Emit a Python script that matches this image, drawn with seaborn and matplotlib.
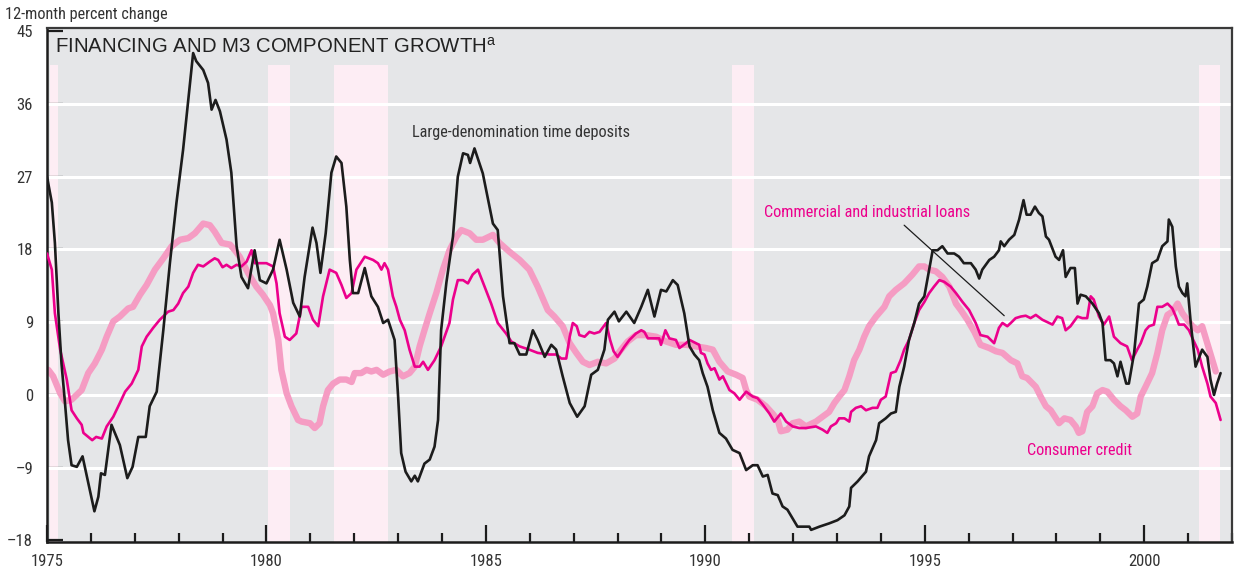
import os
import matplotlib
matplotlib.use("Agg")
import matplotlib.pyplot as plt
import matplotlib.ticker as mticker
from matplotlib import font_manager as fm
import seaborn as sns
import pandas as pd

# ---------------- data ----------------
large_x = [1975.00, 1975.11, 1975.18, 1975.26, 1975.33, 1975.41, 1975.48, 1975.56, 1975.68, 1975.81,
           1975.94, 1976.08, 1976.17, 1976.23, 1976.32, 1976.47, 1976.66, 1976.83, 1976.95, 1977.08,
           1977.25, 1977.34, 1977.50, 1977.65, 1977.80, 1977.95, 1978.10, 1978.33, 1978.40, 1978.56,
           1978.67, 1978.75, 1978.84, 1978.94, 1979.09, 1979.20, 1979.32, 1979.43, 1979.58, 1979.73,
           1979.85, 1980.00, 1980.15, 1980.30, 1980.46, 1980.61, 1980.76, 1980.87, 1981.05, 1981.14,
           1981.23, 1981.35, 1981.48, 1981.59, 1981.71, 1981.82, 1981.90, 1981.97, 1982.09, 1982.24,
           1982.39, 1982.54, 1982.66, 1982.77, 1982.92, 1983.00, 1983.07, 1983.17, 1983.30, 1983.38,
           1983.45, 1983.60, 1983.72, 1983.83, 1983.91, 1983.98, 1984.10, 1984.25, 1984.36, 1984.48,
           1984.59, 1984.64, 1984.74, 1984.93, 1985.16, 1985.27, 1985.39, 1985.54, 1985.65, 1985.77,
           1985.92, 1986.07, 1986.18, 1986.34, 1986.49, 1986.60, 1986.75, 1986.91, 1987.08, 1987.25,
           1987.40, 1987.55, 1987.70, 1987.78, 1987.93, 1988.03, 1988.20, 1988.38, 1988.54, 1988.69,
           1988.84, 1988.99, 1989.11, 1989.26, 1989.37, 1989.52, 1989.64, 1989.75, 1989.86, 1989.94,
           1990.05, 1990.17, 1990.32, 1990.47, 1990.62, 1990.78, 1990.93, 1991.08, 1991.19, 1991.31,
           1991.42, 1991.53, 1991.65, 1991.76, 1991.87, 1991.99, 1992.10, 1992.37, 1992.41, 1992.60,
           1992.82, 1993.01, 1993.17, 1993.28, 1993.32, 1993.47, 1993.66, 1993.73, 1993.89, 1993.96,
           1994.11, 1994.23, 1994.34, 1994.42, 1994.53, 1994.64, 1994.76, 1994.87, 1994.99, 1995.10,
           1995.18, 1995.29, 1995.40, 1995.52, 1995.67, 1995.78, 1995.89, 1996.05, 1996.16, 1996.24,
           1996.31, 1996.47, 1996.58, 1996.69, 1996.73, 1996.81, 1996.92, 1997.04, 1997.15, 1997.25,
           1997.32, 1997.41, 1997.51, 1997.60, 1997.68, 1997.76, 1997.83, 1997.98, 1998.06, 1998.15,
           1998.21, 1998.32, 1998.42, 1998.48, 1998.55, 1998.67, 1998.82, 1998.97, 1999.05, 1999.12,
           1999.23, 1999.31, 1999.39, 1999.46, 1999.59, 1999.65, 1999.77, 1999.88, 1999.99, 2000.07,
           2000.18, 2000.30, 2000.41, 2000.53, 2000.56, 2000.64, 2000.72, 2000.79, 2000.87, 2000.94,
           2000.98, 2001.06, 2001.17, 2001.32, 2001.44, 2001.51, 2001.59, 2001.66, 2001.74]
large_y = [27.0, 23.8, 18.8, 10.1, 3.9, -1.0, -5.6, -8.7, -8.9, -7.6,
           -10.9, -14.4, -12.6, -9.7, -9.9, -3.7, -6.2, -10.3, -8.9, -5.2,
           -5.2, -1.4, 0.4, 8.0, 16.3, 23.8, 30.3, 42.3, 41.3, 40.2,
           38.6, 35.3, 36.5, 35.1, 31.6, 27.5, 18.4, 14.6, 13.2, 17.9,
           14.2, 13.8, 15.5, 19.2, 15.5, 11.4, 9.7, 14.6, 20.7, 18.8,
           15.1, 20.0, 27.5, 29.5, 28.7, 23.3, 16.7, 12.6, 12.6, 15.7,
           12.2, 10.9, 8.9, 9.3, 6.8, -0.2, -7.2, -9.5, -10.7, -10.0,
           -10.7, -8.5, -8.0, -6.4, -3.1, 8.0, 13.9, 19.6, 27.0, 29.9,
           29.7, 28.7, 30.5, 27.4, 21.2, 20.4, 12.2, 6.4, 6.4, 5.0,
           5.0, 8.0, 6.8, 4.7, 6.2, 5.6, 2.3, -1.0, -2.7, -1.4,
           2.5, 3.1, 5.6, 9.3, 10.3, 9.1, 10.3, 8.9, 10.9, 13.0,
           9.7, 13.0, 12.8, 14.2, 13.6, 10.1, 6.0, 5.0, 4.3, 2.7,
           1.0, -1.9, -4.7, -5.4, -6.8, -7.2, -9.3, -8.7, -8.7, -10.1,
           -9.9, -12.2, -12.4, -13.8, -14.2, -15.3, -16.3, -16.3, -16.7, -16.3,
           -15.9, -15.5, -14.9, -13.8, -11.5, -10.7, -9.5, -7.6, -5.6, -3.5,
           -2.9, -2.3, -2.1, 1.0, 3.5, 6.8, 8.9, 11.3, 12.2, 15.5,
           17.9, 17.9, 18.4, 17.5, 17.5, 17.1, 16.3, 16.3, 15.5, 14.4,
           15.5, 16.7, 17.1, 17.9, 19.0, 18.4, 19.2, 19.8, 21.7, 24.1,
           22.3, 22.3, 23.3, 22.5, 22.1, 19.6, 19.2, 17.1, 16.7, 17.9,
           14.6, 15.7, 15.7, 11.3, 12.4, 12.2, 11.3, 10.1, 8.9, 4.3,
           4.3, 3.9, 2.3, 4.1, 1.4, 1.4, 5.2, 11.3, 11.8, 13.4,
           16.3, 16.7, 18.4, 19.0, 21.7, 20.8, 15.9, 13.4, 12.6, 12.2,
           13.8, 8.9, 3.5, 5.6, 4.7, 1.9, 0.0, 1.4, 2.7]

ci_x = [1975.00, 1975.11, 1975.18, 1975.30, 1975.45, 1975.56, 1975.68, 1975.79, 1975.83, 1975.94,
        1976.03, 1976.12, 1976.25, 1976.36, 1976.51, 1976.66, 1976.78, 1976.93, 1977.08, 1977.16,
        1977.27, 1977.42, 1977.57, 1977.76, 1977.88, 1977.99, 1978.10, 1978.22, 1978.33, 1978.44,
        1978.56, 1978.71, 1978.82, 1978.90, 1979.00, 1979.09, 1979.20, 1979.32, 1979.43, 1979.55,
        1979.66, 1979.73, 1980.00, 1980.15, 1980.23, 1980.30, 1980.42, 1980.53, 1980.68, 1980.80,
        1980.95, 1981.06, 1981.18, 1981.29, 1981.44, 1981.59, 1981.71, 1981.82, 1981.94, 1982.05,
        1982.24, 1982.43, 1982.54, 1982.62, 1982.69, 1982.77, 1982.88, 1982.96, 1983.04, 1983.15,
        1983.26, 1983.38, 1983.49, 1983.57, 1983.68, 1983.83, 1983.98, 1984.17, 1984.25, 1984.36,
        1984.48, 1984.59, 1984.70, 1984.82, 1984.97, 1985.12, 1985.27, 1985.46, 1985.58, 1985.77,
        1985.99, 1986.18, 1986.45, 1986.60, 1986.72, 1986.83, 1986.91, 1986.98, 1987.07, 1987.13,
        1987.25, 1987.36, 1987.47, 1987.59, 1987.74, 1987.83, 1987.91, 1988.00, 1988.16, 1988.27,
        1988.42, 1988.54, 1988.61, 1988.69, 1988.84, 1988.95, 1988.99, 1989.09, 1989.18, 1989.33,
        1989.41, 1989.56, 1989.64, 1989.79, 1989.86, 1989.90, 1989.98, 1990.05, 1990.13, 1990.21,
        1990.32, 1990.40, 1990.55, 1990.66, 1990.78, 1990.93, 1991.08, 1991.19, 1991.31, 1991.46,
        1991.57, 1991.72, 1991.84, 1991.99, 1992.14, 1992.29, 1992.52, 1992.67, 1992.78, 1992.86,
        1992.98, 1993.05, 1993.17, 1993.28, 1993.32, 1993.43, 1993.55, 1993.66, 1993.81, 1993.92,
        1994.00, 1994.11, 1994.23, 1994.34, 1994.45, 1994.53, 1994.64, 1994.76, 1994.87, 1994.99,
        1995.10, 1995.21, 1995.33, 1995.44, 1995.59, 1995.71, 1995.86, 1996.01, 1996.16, 1996.27,
        1996.43, 1996.58, 1996.69, 1996.77, 1996.88, 1996.96, 1997.07, 1997.19, 1997.30, 1997.41,
        1997.53, 1997.68, 1997.83, 1997.91, 1998.02, 1998.13, 1998.21, 1998.32, 1998.48, 1998.59,
        1998.70, 1998.78, 1998.85, 1998.97, 1999.08, 1999.20, 1999.31, 1999.46, 1999.61, 1999.72,
        1999.84, 1999.92, 2000.03, 2000.11, 2000.22, 2000.30, 2000.41, 2000.53, 2000.64, 2000.72,
        2000.79, 2000.91, 2001.02, 2001.10, 2001.22, 2001.32, 2001.44, 2001.51, 2001.63, 2001.74]
ci_y = [17.5, 15.5, 10.1, 5.6, 1.9, -1.9, -2.9, -3.7, -4.7, -5.2,
        -5.6, -5.2, -5.4, -3.9, -2.7, -1.0, 0.4, 1.4, 3.1, 6.0,
        7.2, 8.3, 9.3, 10.3, 10.5, 11.3, 12.6, 13.4, 15.1, 16.1,
        15.9, 16.5, 16.9, 16.7, 15.8, 16.1, 15.7, 16.1, 15.9, 16.5,
        17.9, 16.3, 16.3, 15.9, 13.8, 10.1, 7.2, 6.8, 7.6, 10.9,
        10.9, 9.3, 8.5, 12.2, 15.5, 15.1, 13.6, 12.0, 12.6, 15.5,
        17.1, 16.7, 16.3, 15.5, 16.3, 15.5, 12.2, 10.9, 9.3, 8.0,
        5.6, 3.5, 3.5, 4.1, 3.1, 4.3, 6.0, 8.9, 11.8, 14.2,
        14.2, 13.8, 14.9, 15.5, 13.4, 11.3, 8.9, 7.6, 6.6, 6.0,
        5.6, 5.2, 5.0, 5.0, 4.5, 4.5, 7.2, 8.9, 8.5, 7.4,
        7.2, 7.8, 7.6, 7.8, 8.9, 6.8, 5.4, 4.7, 6.0, 6.8,
        7.6, 8.0, 7.8, 7.0, 7.0, 7.0, 6.2, 8.0, 7.0, 6.8,
        5.8, 6.4, 6.8, 6.4, 6.2, 5.2, 5.0, 3.9, 3.1, 3.3,
        1.9, 2.3, 0.6, 0.2, -0.6, 0.4, -0.2, -0.4, -1.2, -2.3,
        -3.3, -2.3, -3.3, -3.9, -4.1, -4.1, -3.9, -4.3, -4.7, -3.9,
        -3.5, -2.9, -2.9, -3.3, -2.1, -1.6, -1.4, -1.9, -1.6, -1.6,
        -0.6, -0.2, 2.7, 2.9, 4.3, 5.6, 6.8, 8.9, 10.5, 11.5,
        12.6, 13.4, 14.2, 14.0, 13.4, 12.6, 11.5, 10.5, 8.9, 7.4,
        7.2, 6.4, 8.3, 8.9, 8.5, 8.9, 9.5, 9.7, 9.8, 9.5,
        9.9, 9.3, 8.9, 8.7, 9.7, 9.5, 8.0, 8.5, 9.7, 9.5,
        9.5, 12.2, 11.8, 9.7, 8.7, 9.7, 7.2, 6.4, 6.0, 4.3,
        5.6, 6.4, 8.0, 8.5, 8.7, 10.9, 10.9, 11.3, 10.7, 9.7,
        8.7, 8.7, 8.0, 7.0, 5.6, 3.5, 1.4, -0.2, -1.0, -3.1]

cons_x = [1975.03, 1975.14, 1975.30, 1975.41, 1975.56, 1975.79, 1975.94, 1976.09, 1976.25, 1976.36,
          1976.51, 1976.66, 1976.85, 1976.96, 1977.12, 1977.27, 1977.46, 1977.65, 1977.84, 1978.03,
          1978.22, 1978.37, 1978.56, 1978.71, 1978.82, 1978.98, 1979.17, 1979.28, 1979.39, 1979.58,
          1979.77, 1979.92, 1980.08, 1980.15, 1980.27, 1980.34, 1980.46, 1980.57, 1980.72, 1980.80,
          1980.99, 1981.10, 1981.21, 1981.29, 1981.40, 1981.52, 1981.67, 1981.82, 1981.94, 1982.01,
          1982.16, 1982.28, 1982.39, 1982.51, 1982.66, 1982.81, 1982.96, 1983.11, 1983.26, 1983.38,
          1983.49, 1983.60, 1983.72, 1983.87, 1984.02, 1984.17, 1984.33, 1984.44, 1984.63, 1984.78,
          1984.93, 1985.16, 1985.31, 1985.54, 1985.77, 1985.99, 1986.18, 1986.41, 1986.56, 1986.75,
          1986.91, 1987.06, 1987.21, 1987.36, 1987.55, 1987.74, 1987.93, 1988.08, 1988.23, 1988.42,
          1988.65, 1988.88, 1989.11, 1989.33, 1989.56, 1989.79, 1990.02, 1990.17, 1990.32, 1990.51,
          1990.70, 1990.85, 1990.93, 1991.00, 1991.19, 1991.38, 1991.53, 1991.65, 1991.72, 1991.87,
          1991.99, 1992.14, 1992.29, 1992.52, 1992.67, 1992.82, 1992.94, 1993.05, 1993.17, 1993.28,
          1993.39, 1993.51, 1993.62, 1993.73, 1993.89, 1994.08, 1994.19, 1994.34, 1994.53, 1994.72,
          1994.87, 1994.99, 1995.10, 1995.25, 1995.40, 1995.56, 1995.71, 1995.82, 1995.97, 1996.13,
          1996.27, 1996.47, 1996.62, 1996.77, 1996.96, 1997.11, 1997.22, 1997.33, 1997.53, 1997.64,
          1997.76, 1997.87, 1998.06, 1998.18, 1998.32, 1998.44, 1998.51, 1998.59, 1998.70, 1998.82,
          1998.93, 1999.05, 1999.16, 1999.31, 1999.46, 1999.58, 1999.73, 1999.84, 1999.92, 2000.03,
          2000.18, 2000.30, 2000.41, 2000.53, 2000.64, 2000.76, 2000.87, 2000.98, 2001.10, 2001.22,
          2001.32, 2001.48, 2001.63]
cons_y = [3.1, 2.3, 0.2, -0.8, -0.6, 0.6, 2.7, 3.9, 5.6, 7.2,
          9.1, 9.7, 10.7, 10.9, 12.4, 13.6, 15.5, 16.9, 18.4, 19.2,
          19.4, 20.0, 21.2, 21.0, 20.2, 18.8, 18.6, 17.9, 17.1, 15.1,
          13.4, 12.4, 11.1, 10.1, 6.8, 3.1, 0.2, -1.4, -3.1, -3.3,
          -3.5, -4.1, -3.5, -1.4, 0.6, 1.4, 1.9, 1.9, 1.6, 2.7,
          2.7, 3.1, 2.9, 3.1, 2.5, 2.9, 3.1, 2.3, 2.7, 3.5,
          6.0, 8.0, 10.1, 12.6, 15.5, 17.9, 19.6, 20.4, 20.0, 19.2,
          19.2, 19.8, 18.8, 17.7, 16.7, 15.5, 13.4, 10.5, 9.7, 8.5,
          6.4, 5.2, 4.1, 3.7, 4.1, 3.9, 4.5, 5.6, 6.6, 7.4,
          7.4, 7.2, 6.6, 6.2, 6.2, 6.0, 5.8, 5.6, 4.1, 2.9,
          2.5, 2.1, 0.6, -0.2, -0.6, -1.4, -2.3, -3.1, -4.5, -4.3,
          -3.5, -3.3, -3.9, -3.3, -2.7, -2.1, -1.0, -0.2, 0.6, 2.3,
          4.3, 5.6, 7.2, 8.5, 9.7, 10.9, 12.2, 13.0, 13.8, 14.9,
          15.9, 15.9, 15.5, 15.3, 14.6, 13.4, 11.3, 10.5, 9.3, 7.8,
          6.2, 5.8, 5.4, 5.2, 4.3, 3.9, 2.3, 2.1, 1.0, -0.2,
          -1.4, -1.9, -3.5, -2.9, -3.1, -3.9, -4.7, -4.5, -2.1, -1.4,
          0.2, 0.6, 0.4, -0.6, -1.4, -1.9, -2.7, -2.3, -0.2, 1.0,
          2.7, 5.2, 8.0, 9.9, 10.3, 11.3, 10.1, 9.3, 8.5, 8.0,
          8.5, 5.6, 2.9]

recession_start = [1975.06, 1980.04, 1981.53, 1990.6, 2001.25]
recession_end = [1975.25, 1980.53, 1982.78, 1991.12, 2001.72]
recession_top = 40.8

y_ticks = [-18, -9, 0, 9, 18, 27, 36, 45]
y_labels = ["\u201318", "\u20139", "0", "9", "18", "27", "36", "45"]
x_major = [1975, 1980, 1985, 1990, 1995, 2000]
x_labels = ["1975", "1980", "1985", "1990", "1995", "2000"]


# ---------------- fonts ----------------
def pick_condensed():
    names = {f.name for f in fm.fontManager.ttflist}
    for p in ["Liberation Sans Narrow", "Arial Narrow", "Roboto Condensed",
              "Open Sans Condensed", "Noto Sans Condensed", "DejaVu Sans Condensed",
              "Nimbus Sans Narrow"]:
        if p in names:
            return dict(family=p, weight=400), True
    bad = ["bold", "italic", "oblique", "light", "medium", "thin", "black", "semi",
           "extra", "ultra", "mono", "serif", "display", "heavy", "book"]
    order = ["notosans", "dejavusans", "opensans", "roboto", "liberation"]
    best = None
    for f in fm.fontManager.ttflist:
        base = os.path.basename(f.fname).lower()
        core = base.replace("condensed", "").replace("narrow", "")
        if ("condensed" in base or "narrow" in base) and not any(b in core for b in bad):
            rank = next((i for i, o in enumerate(order)
                         if o in base.replace("-", "").replace("_", "")), 99)
            if best is None or rank < best[0]:
                best = (rank, f.fname)
    if best is not None:
        return dict(fname=best[1]), True
    return dict(family="Liberation Sans"), False


NARROW, IS_NARROW = pick_condensed()
SCALE = 1.0 if IS_NARROW else 0.9


def fp(size):
    return fm.FontProperties(size=size * SCALE, **NARROW)


# ---------------- style ----------------
sns.set_style("white")
plt.rcParams["font.family"] = ["Liberation Sans", "DejaVu Sans"]
plt.rcParams["mathtext.fontset"] = "custom"
plt.rcParams["mathtext.rm"] = "Liberation Sans"

BG = "#e5e6e8"
BAND = "#fdedf4"
BLACK = "#1c1c1c"
MAGENTA = "#ec008c"
PINK = "#f59cc3"
TXT = "#333333"

fig = plt.figure(figsize=(12.38, 5.73), dpi=100)
ax = fig.add_axes([47 / 1238, 31 / 573, (1232 - 47) / 1238, (545 - 31) / 573])
ax.set_facecolor(BG)

ymin, ymax = -18.2, 45.4
ax.set_xlim(1975, 2002)
ax.set_ylim(ymin, ymax)

for s, e in zip(recession_start, recession_end):
    ax.axvspan(s, e, ymin=0, ymax=(recession_top - ymin) / (ymax - ymin),
               color=BAND, lw=0, zorder=0.5)

for t in y_ticks[1:-1]:
    ax.axhline(t, color="white", lw=2.2, zorder=0.8)

df_cons = pd.DataFrame({"year": cons_x, "value": cons_y})
df_ci = pd.DataFrame({"year": ci_x, "value": ci_y})
df_large = pd.DataFrame({"year": large_x, "value": large_y})

sns.lineplot(data=df_cons, x="year", y="value", ax=ax, color=PINK, lw=4.6,
             estimator=None, sort=False, zorder=2)
sns.lineplot(data=df_ci, x="year", y="value", ax=ax, color=MAGENTA, lw=1.9,
             estimator=None, sort=False, zorder=3)
sns.lineplot(data=df_large, x="year", y="value", ax=ax, color=BLACK, lw=1.9,
             estimator=None, sort=False, zorder=4)

ax.set_xlabel("")
ax.set_ylabel("")

# ticks
ax.set_yticks(y_ticks)
ax.yaxis.set_major_formatter(mticker.FixedFormatter(y_labels))
ax.set_xticks(x_major)
ax.set_xticklabels(x_labels)
ax.xaxis.set_minor_locator(mticker.MultipleLocator(1))
ax.tick_params(axis="y", direction="in", length=11.5, width=1.6, color=BLACK,
               pad=10, labelcolor=TXT, left=True)
ax.tick_params(axis="x", which="major", direction="in", length=12.5, width=1.6,
               color=BLACK, pad=9, labelcolor=TXT, bottom=True)
ax.tick_params(axis="x", which="minor", direction="in", length=6.5, width=1.6,
               color=BLACK, bottom=True)
for lab in ax.get_xticklabels() + ax.get_yticklabels():
    lab.set_fontproperties(fp(12.0))

for side in ["left", "bottom"]:
    ax.spines[side].set_color(BLACK)
    ax.spines[side].set_linewidth(1.8)
for side in ["top", "right"]:
    ax.spines[side].set_color("#3a3a3a")
    ax.spines[side].set_linewidth(1.6)
    ax.spines[side].set_visible(True)

# texts
ax.text(0.007, 0.983, "FINANCING AND M3 COMPONENT GROWTH$^{\\mathrm{a}}$",
        transform=ax.transAxes, ha="left", va="top", fontsize=14.7,
        color="#222222")
fig.text(5 / 1238, 1 - 15 / 573, "12-month percent change", ha="left", va="center",
         fontproperties=fp(11.7), color=TXT)

ax.text(1983.31, 32.5, "Large-denomination time deposits", ha="left", va="center",
        fontproperties=fp(11.7), color=TXT)
ax.text(1991.34, 22.6, "Commercial and industrial loans", ha="left", va="center",
        fontproperties=fp(11.7), color=MAGENTA)
ax.text(1997.33, -6.9, "Consumer credit", ha="left", va="center",
        fontproperties=fp(11.7), color=MAGENTA)
ax.annotate("", xy=(1996.81, 9.8), xytext=(1994.53, 21.0),
            arrowprops=dict(arrowstyle="-", color=BLACK, lw=0.9,
                            shrinkA=0, shrinkB=0))

fig.savefig("out.png", dpi=100)
